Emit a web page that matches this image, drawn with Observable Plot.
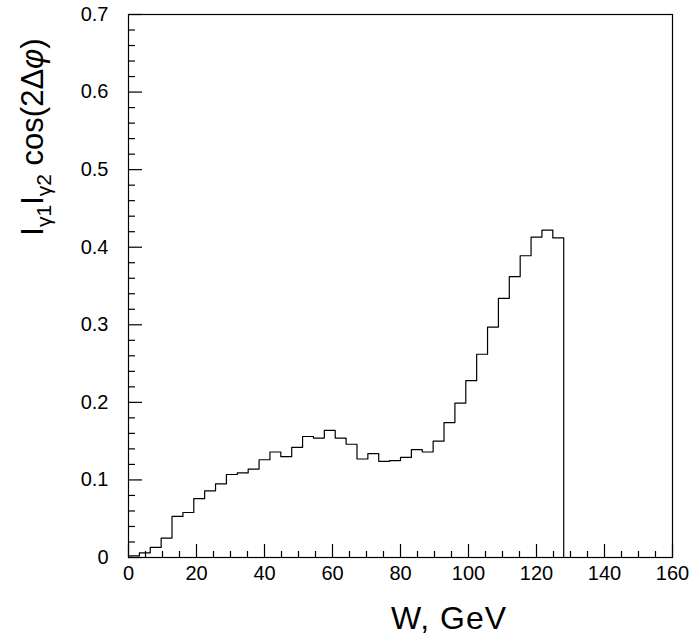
<!DOCTYPE html>
<html>
<head>
<meta charset="utf-8">
<script src="https://cdn.jsdelivr.net/npm/d3@7"></script>
<script src="https://cdn.jsdelivr.net/npm/@observablehq/plot@0.6"></script>
<style>
  html, body { margin: 0; padding: 0; background: #fff; }
  #chart svg { display: block; }
</style>
</head>
<body>
<div id="chart"></div>
<script>
// Histogram bins: lower edge (GeV) and content
const binLow = [0, 3.2, 6.4, 9.6, 12.8, 16, 19.2, 22.4, 25.6, 28.8,
  32, 35.2, 38.4, 41.6, 44.8, 48, 51.2, 54.4, 57.6, 60.8,
  64, 67.2, 70.4, 73.6, 76.8, 80, 83.2, 86.4, 89.6, 92.8,
  96, 99.2, 102.4, 105.6, 108.8, 112, 115.2, 118.4, 121.6, 124.8];
const binValue = [0.002, 0.006, 0.013, 0.025, 0.053, 0.058, 0.076, 0.086, 0.095, 0.107,
  0.109, 0.114, 0.126, 0.136, 0.130, 0.142, 0.156, 0.154, 0.164, 0.154,
  0.146, 0.127, 0.134, 0.124, 0.125, 0.129, 0.139, 0.136, 0.150, 0.174,
  0.199, 0.228, 0.262, 0.297, 0.334, 0.362, 0.389, 0.413, 0.422, 0.412];
const lastEdge = 128;

const xMajorTicks = [0, 20, 40, 60, 80, 100, 120, 140, 160];
const xMinorTicks = [5, 10, 15, 25, 30, 35, 45, 50, 55, 65, 70, 75, 85, 90, 95, 105, 110, 115, 125, 130, 135, 145, 150, 155];
const yMajorTicks = [0, 0.1, 0.2, 0.3, 0.4, 0.5, 0.6, 0.7];
const yMinorTicks = [0.02, 0.04, 0.06, 0.08, 0.12, 0.14, 0.16, 0.18, 0.22, 0.24, 0.26, 0.28,
  0.32, 0.34, 0.36, 0.38, 0.42, 0.44, 0.46, 0.48, 0.52, 0.54, 0.56, 0.58, 0.62, 0.64, 0.66, 0.68];
const yTickLabels = ["0", "0.1", "0.2", "0.3", "0.4", "0.5", "0.6", "0.7"];
const xTitle = "W, GeV";

// Step outline points (step-after)
const steps = binLow.map((x, i) => ({x, y: binValue[i]}));
steps.push({x: lastEdge, y: binValue[binValue.length - 1]});
steps.push({x: lastEdge, y: 0});

const W = 692, H = 642;
const mL = 128, mR = 20, mT = 14, mB = 85;
const plotW = W - mL - mR, plotH = H - mT - mB;

const chart = Plot.plot({
  width: W,
  height: H,
  marginLeft: mL,
  marginRight: mR,
  marginTop: mT,
  marginBottom: mB,
  style: {fontFamily: "'Liberation Sans', Arial, Helvetica, sans-serif", fontSize: "20px", color: "#000", background: "#fff"},
  x: {domain: [0, 160]},
  y: {domain: [0, 0.7]},
  marks: [
    Plot.line(steps, {x: "x", y: "y", curve: "step-after", stroke: "#000", strokeWidth: 1.2}),
    // inward ticks on left axis
    Plot.tickY(yMajorTicks, {y: d => d, stroke: "#000", strokeWidth: 1.2, insetRight: plotW - 14}),
    Plot.tickY(yMinorTicks, {y: d => d, stroke: "#000", strokeWidth: 1.2, insetRight: plotW - 7}),
    // inward ticks on bottom axis
    Plot.tickX(xMajorTicks, {x: d => d, stroke: "#000", strokeWidth: 1.2, insetTop: plotH - 13}),
    Plot.tickX(xMinorTicks, {x: d => d, stroke: "#000", strokeWidth: 1.2, insetTop: plotH - 6}),
    Plot.axisY({ticks: yMajorTicks, tickSize: 0, tickPadding: 20, label: null,
      tickFormat: d => yTickLabels[yMajorTicks.indexOf(d)], fontSize: 20}),
    Plot.axisX({ticks: xMajorTicks, tickSize: 0, tickPadding: 8, label: null, fontSize: 20}),
    Plot.frame({stroke: "#000", strokeWidth: 1.2})
  ]
});

document.getElementById("chart").appendChild(chart);

// Axis titles
const svg = d3.select(chart);
svg.append("text")
  .attr("x", 449)
  .attr("y", 629)
  .attr("text-anchor", "middle")
  .attr("font-size", 32)
  .attr("letter-spacing", 1)
  .attr("fill", "#000")
  .attr("font-family", "'Liberation Sans', Arial, sans-serif")
  .text(xTitle);

const yl = svg.append("text")
  .attr("transform", "translate(43,137) rotate(-90)")
  .attr("text-anchor", "middle")
  .attr("font-size", 31)
  .attr("fill", "#000")
  .attr("font-family", "'Liberation Sans', Arial, sans-serif");
yl.append("tspan").text("I");
yl.append("tspan").attr("font-size", 21).attr("dy", 8).text("γ1");
yl.append("tspan").attr("dy", -8).text("I");
yl.append("tspan").attr("font-size", 21).attr("dy", 8).text("γ2");
yl.append("tspan").attr("dy", -8).text(" cos(2Δ");
yl.append("tspan").attr("font-style", "italic").text("φ");
yl.append("tspan").text(")");
</script>
</body>
</html>
